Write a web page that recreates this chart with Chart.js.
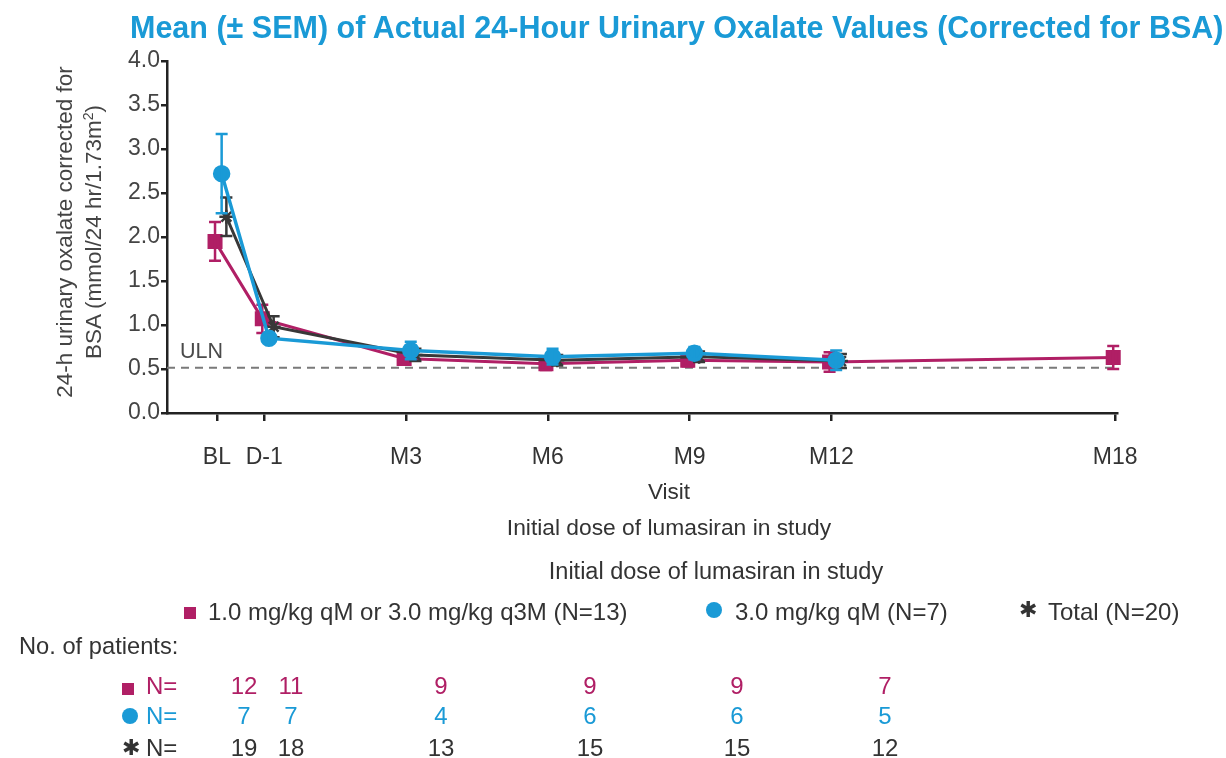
<!DOCTYPE html>
<html>
<head>
<meta charset="utf-8">
<script src="https://cdn.jsdelivr.net/npm/chart.js@4.4.1/dist/chart.umd.min.js"></script>
<style>
  html, body { margin: 0; padding: 0; background: #fff; }
  body { width: 1226px; height: 758px; position: relative; overflow: hidden;
         font-family: "Liberation Sans", Arial, sans-serif; color: #333; }
  #chart { position: absolute; left: 0; top: 0; }
  .t { position: absolute; white-space: nowrap; line-height: 1; }
  .title { left: 130px; top: 12px; font-size: 30.5px; font-weight: bold; color: #1a9ad6; }
  .ylab { position: absolute; white-space: nowrap; color: #444; line-height: 1;
          transform-origin: center center; transform: translate(-50%, -50%) rotate(-90deg); }
  .c { transform: translateX(-50%); }
  .mk-sq { display: inline-block; width: 12px; height: 12px; background: #b01f65; }
  .mk-ci { display: inline-block; width: 16px; height: 16px; border-radius: 50%; background: #1a9ad6; }
  .mk-st { font-family: "DejaVu Sans", sans-serif; color: #333; }
</style>
</head>
<body>
<canvas id="chart" width="1226" height="758"></canvas>
<div class="t title">Mean (± SEM) of Actual 24-Hour Urinary Oxalate Values (Corrected for BSA)</div>
<div class="ylab" style="left:65px; top:232px; font-size:22.5px;">24-h urinary oxalate corrected for</div>
<div class="ylab" style="left:93px; top:232px; font-size:22.5px;">BSA (mmol/24 hr/1.73m<sup style="font-size:14px">2</sup>)</div>
<div class="t" style="left:180px; top:341px; font-size:21.5px; color:#4a4a4a;">ULN</div>
<div class="t c" style="left:669px; top:481px; font-size:22.5px;">Visit</div>
<div class="t c" style="left:669px; top:516px; font-size:22.8px;">Initial dose of lumasiran in study</div>
<div class="t c" style="left:716px; top:560px; font-size:23.5px;">Initial dose of lumasiran in study</div>
<div id="legend"></div>
<div class="t" style="left:19px; top:635px; font-size:23.7px;">No. of patients:</div>
<div id="table"></div>
<script>
// Visits and their time in months from the start of treatment
const visits = ['BL', 'D-1', 'M3', 'M6', 'M9', 'M12', 'M18'];
const visitMonth = [-1, 0, 3, 6, 9, 12, 18];

// 1.0 mg/kg qM or 3.0 mg/kg q3M (N=13)
const lowDoseMean = [1.95, 1.07, 0.62, 0.56, 0.60, 0.58, 0.63];
const lowDoseSem  = [0.22, 0.16, 0.06, 0.07, 0.07, 0.11, 0.13];
// 3.0 mg/kg qM (N=7)
const highDoseMean = [2.72, 0.85, 0.71, 0.64, 0.68, 0.60, null];
const highDoseSem  = [0.45, 0.04, 0.10, 0.09, 0.07, 0.11, null];
// Total (N=20)
const totalMean = [2.23, 0.98, 0.66, 0.60, 0.64, 0.59, null];
const totalSem  = [0.22, 0.12, 0.07, 0.06, 0.06, 0.08, null];

// Upper limit of normal
const ulnValue = 0.514;

// Patients per visit (BL .. M12)
const lowDoseN  = [12, 11, 9, 9, 9, 7];
const highDoseN = [7, 7, 4, 6, 6, 5];
const totalN    = [19, 18, 13, 15, 15, 12];

const yTicks = [0, 0.5, 1, 1.5, 2, 2.5, 3, 3.5, 4];

const MAGENTA = '#b01f65', BLUE = '#1a9ad6', GREY = '#383838';

// slight horizontal dodge per group so the markers do not sit on each other
function points(mean, dodge) {
  const out = [];
  mean.forEach((v, i) => { if (v !== null) out.push({ x: visitMonth[i] + dodge, y: v }); });
  return out;
}
function bars(mean, sem) {
  return mean.filter(v => v !== null).map((v, i) => [v - sem[i], v + sem[i]]);
}

const errorBars = {
  id: 'errorBars',
  afterDatasetDraw(chart, args) {
    const ds = chart.data.datasets[args.index];
    if (!ds.errors) return;
    const ctx = chart.ctx, y = chart.scales.y;
    ctx.save();
    ctx.strokeStyle = ds.borderColor;
    ctx.lineWidth = 2.5;
    args.meta.data.forEach((pt, i) => {
      const [lo, hi] = ds.errors[i];
      const yl = y.getPixelForValue(lo), yh = y.getPixelForValue(hi);
      ctx.beginPath();
      ctx.moveTo(pt.x, yl); ctx.lineTo(pt.x, yh);
      ctx.moveTo(pt.x - 6, yl); ctx.lineTo(pt.x + 6, yl);
      ctx.moveTo(pt.x - 6, yh); ctx.lineTo(pt.x + 6, yh);
      ctx.stroke();
    });
    ctx.restore();
  }
};

new Chart(document.getElementById('chart'), {
  type: 'line',
  data: {
    datasets: [
      { label: '3.0 mg/kg qM (N=7)', data: points(highDoseMean, 0.1), errors: bars(highDoseMean, highDoseSem),
        borderColor: BLUE, backgroundColor: BLUE, borderWidth: 3.5, pointStyle: 'circle', pointRadius: 7, order: 0 },
      { label: 'Total (N=20)', data: points(totalMean, 0.2), errors: bars(totalMean, totalSem),
        borderColor: GREY, backgroundColor: GREY, borderWidth: 3, pointStyle: 'star', pointRadius: 7, pointBorderWidth: 2.5, order: 1 },
      { label: '1.0 mg/kg qM or 3.0 mg/kg q3M (N=13)', data: points(lowDoseMean, -0.04), errors: bars(lowDoseMean, lowDoseSem),
        borderColor: MAGENTA, backgroundColor: MAGENTA, borderWidth: 3, pointStyle: 'rect', pointRadius: 8.5, order: 2 },
      { label: 'ULN', data: [{ x: -2.056, y: ulnValue }, { x: 18.04, y: ulnValue }],
        borderColor: '#7a7a7a', borderWidth: 2, borderDash: [8, 6], pointRadius: 0, order: 3 }
    ]
  },
  options: {
    responsive: false,
    devicePixelRatio: 1,
    animation: false,
    clip: false,
    layout: { padding: { left: 90, right: 109, top: 61, bottom: 275 } },
    plugins: { legend: { display: false }, tooltip: { enabled: false } },
    scales: {
      x: {
        type: 'linear', min: -2.056, max: 18.04,
        afterBuildTicks: s => { s.ticks = visitMonth.map(v => ({ value: v })); },
        afterFit: s => { s.height = 70; },
        ticks: {
          callback: v => visits[visitMonth.indexOf(v)],
          font: { family: 'Liberation Sans', size: 23 }, color: '#333', padding: 23, maxRotation: 0, autoSkip: false
        },
        grid: { drawOnChartArea: false, drawTicks: true, tickLength: 8, color: '#222', lineWidth: 2.5 },
        border: { display: true, color: '#222', width: 2.5 }
      },
      y: {
        min: 0, max: 4,
        afterBuildTicks: s => { s.ticks = yTicks.map(v => ({ value: v })); },
        afterFit: s => { s.width = 77; },
        ticks: {
          callback: v => v.toFixed(1),
          font: { family: 'Liberation Sans', size: 23 }, color: '#444', padding: 1
        },
        grid: { drawOnChartArea: false, drawTicks: true, tickLength: 6, color: '#222', lineWidth: 2.5 },
        border: { display: true, color: '#222', width: 2.5 }
      }
    }
  },
  plugins: [errorBars]
});

// legend row
const FS = 'font-size:24px;';
const legend = document.getElementById('legend');
legend.innerHTML =
  '<div class="t" style="left:184px; top:606px;"><span class="mk-sq"></span></div>' +
  '<div class="t" style="left:208px; top:600px; ' + FS + '">1.0 mg/kg qM or 3.0 mg/kg q3M (N=13)</div>' +
  '<div class="t" style="left:706px; top:602px;"><span class="mk-ci"></span></div>' +
  '<div class="t" style="left:735px; top:600px; ' + FS + '">3.0 mg/kg qM (N=7)</div>' +
  '<div class="t mk-st" style="left:1019px; top:599px; font-size:22px;">✱</div>' +
  '<div class="t" style="left:1048px; top:600px; ' + FS + '">Total (N=20)</div>';

// patient counts table
const tableColumnX = [244, 291, 441, 590, 737, 885];
const rows = [
  { marker: '<span class="mk-sq"></span>', n: lowDoseN, color: MAGENTA, center: 686, mTop: 682 },
  { marker: '<span class="mk-ci"></span>', n: highDoseN, color: BLUE, center: 716, mTop: 708 },
  { marker: '<span class="mk-st" style="font-size:22px">✱</span>', n: totalN, color: '#333', center: 748, mTop: 737 }
];
let html = '';
rows.forEach(r => {
  const top = r.center - 12;
  html += '<div class="t" style="left:122px; top:' + r.mTop + 'px;">' + r.marker + '</div>';
  html += '<div class="t" style="left:146px; top:' + top + 'px; ' + FS + ' color:' + r.color + '">N=</div>';
  r.n.forEach((v, i) => {
    html += '<div class="t c" style="left:' + tableColumnX[i] + 'px; top:' + top + 'px; ' + FS + ' color:' + r.color + '">' + v + '</div>';
  });
});
document.getElementById('table').innerHTML = html;
</script>
</body>
</html>
